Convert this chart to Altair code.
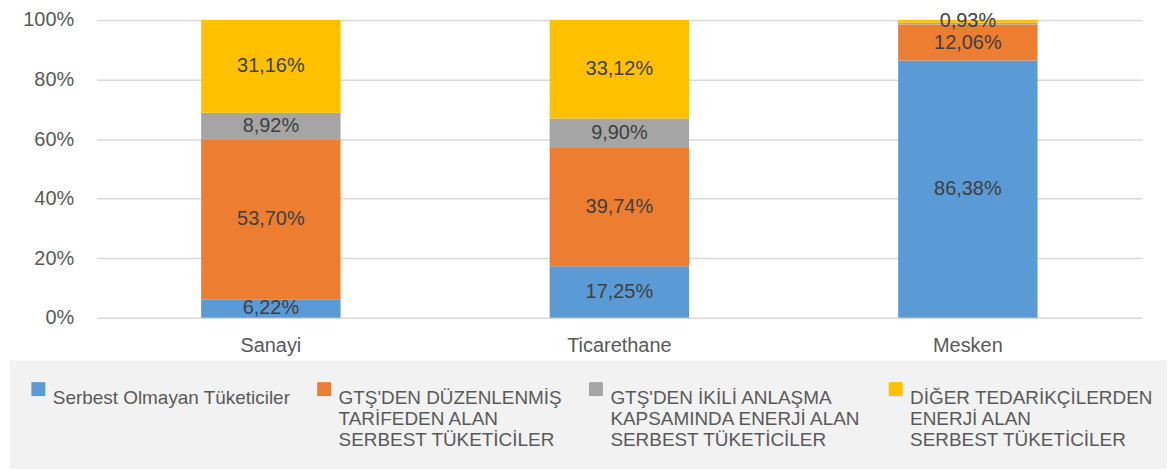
import altair as alt
import pandas as pd

categories = ["Sanayi", "Ticarethane", "Mesken"]
series = [
    "Serbest Olmayan Tüketiciler| | ",
    "GTŞ'DEN DÜZENLENMİŞ|TARİFEDEN ALAN|SERBEST TÜKETİCİLER",
    "GTŞ'DEN İKİLİ ANLAŞMA|KAPSAMINDA ENERJİ ALAN|SERBEST TÜKETİCİLER",
    "DİĞER TEDARİKÇİLERDEN|ENERJİ ALAN|SERBEST TÜKETİCİLER",
]
colors = ["#5B9BD5", "#ED7D31", "#A5A5A5", "#FFC000"]
values = {
    "Sanayi": [6.22, 53.70, 8.92, 31.16],
    "Ticarethane": [17.25, 39.74, 9.90, 33.12],
    "Mesken": [86.38, 12.06, 0.63, 0.93],
}
labels = {
    "Sanayi": ["6,22%", "53,70%", "8,92%", "31,16%"],
    "Ticarethane": ["17,25%", "39,74%", "9,90%", "33,12%"],
    "Mesken": ["86,38%", "12,06%", "", "0,93%"],
}

rows = []
for c in categories:
    for i, s in enumerate(series):
        rows.append({"cat": c, "series": s, "idx": i, "value": values[c][i], "label": labels[c][i]})
df = pd.DataFrame(rows)

FONT = "Liberation Sans"

base = alt.Chart(df).transform_stack(
    stack="value", groupby=["cat"], as_=["y0", "y1"], sort=[alt.SortField("idx", order="ascending")]
).transform_calculate(mid="(datum.y0 + datum.y1) / 2")

xenc = alt.X("cat:N", sort=categories, title=None,
             scale=alt.Scale(paddingInner=0.6, paddingOuter=0.3),
             axis=alt.Axis(labelAngle=0, domain=False, ticks=False, labelPadding=18,
                           labelFontSize=20, labelColor="#595959", labelFont=FONT))

bars = base.mark_bar().encode(
    x=xenc,
    y=alt.Y("y0:Q", scale=alt.Scale(domain=[0, 100]), title=None,
            axis=alt.Axis(values=[0, 20, 40, 60, 80, 100], labelExpr="datum.value + '%'",
                          domain=False, ticks=False, labelPadding=23, labelFontSize=20,
                          labelColor="#595959", labelFont=FONT, gridColor="#d9d9d9",
                          gridWidth=1.5)),
    y2="y1:Q",
    color=alt.Color("series:N", sort=series, scale=alt.Scale(domain=series, range=colors),
                    legend=alt.Legend(title=None, orient="none", legendX=-87, legendY=342,
                                      columns=4, direction="horizontal",
                                      labelExpr="split(datum.label, '|')",
                                      labelFontSize=19, labelFont=FONT, labelColor="#595959",
                                      labelLimit=400, symbolType="square", symbolSize=196,
                                      symbolStrokeWidth=0, columnPadding=24, padding=19,
                                      fillColor="#f2f2f2", labelBaseline="top",
                                      labelOffset=5)),
)

text = base.mark_text(fontSize=20, font=FONT, color="#404040").encode(
    x=alt.X("cat:N", sort=categories),
    y=alt.Y("mid:Q"),
    text="label:N",
)

chart = alt.layer(bars, text).properties(
    width=1050, height=299,
    padding={"left": 89, "top": 11, "right": 25, "bottom": 152},
    autosize=alt.AutoSizeParams(type="none"),
    background="white",
).configure_view(stroke=None)

chart.save("out.html", embed_options={"renderer": "svg", "actions": False})
